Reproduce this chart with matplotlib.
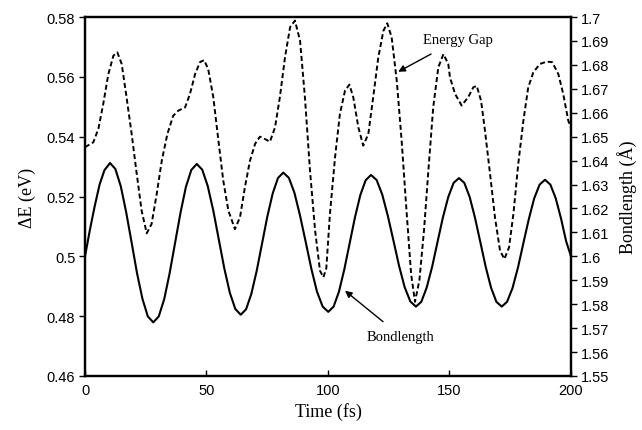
import matplotlib.pyplot as plt

# Energy gap (left axis, dashed)
gap_t = [0, 3.4, 5.5, 7.5, 9.6, 11.7, 13.3, 15.1, 17.1, 19.2, 21.3, 23.3, 25.4, 27.4,
         29.5, 31.6, 33.9, 36.3, 38.4, 41.2, 43.2, 45.3, 47.3, 49.0, 50.7, 52.8, 54.9,
         56.9, 59.0, 61.7, 63.8, 65.8, 67.9, 70.0, 72.0, 74.1, 76.1, 78.2, 80.2, 82.3,
         84.4, 86.4, 88.5, 90.5, 92.6, 94.7, 96.7, 98.1, 99.3, 100.8, 102.9, 104.9, 107.0,
         108.8, 110.4, 112.5, 114.5, 116.6, 118.6, 120.7, 122.8, 124.4, 126.2, 128.3,
         130.3, 132.4, 134.2, 135.8, 137.6, 139.5, 141.3, 143.3, 145.4, 147.5, 149.5,
         150.2, 152.3, 155.0, 157.7, 159.8, 161.2, 163.0, 164.6, 166.7, 168.7, 170.8,
         172.6, 174.5, 176.3, 178.3, 180.4, 182.4, 184.5, 187.2, 190.0, 192.3, 194.8,
         196.8, 198.9, 200]
gap_e = [0.5365, 0.5381, 0.5426, 0.5509, 0.5609, 0.5671, 0.5682, 0.5643, 0.5532, 0.5409,
         0.5275, 0.5153, 0.5077, 0.5108, 0.5208, 0.5320, 0.5409, 0.5470, 0.5487, 0.5498,
         0.5543, 0.5609, 0.5649, 0.5656, 0.5626, 0.5532, 0.5387, 0.5253, 0.5153, 0.5091,
         0.5131, 0.5231, 0.5320, 0.5376, 0.5400, 0.5392, 0.5383, 0.5431, 0.5532, 0.5665,
         0.5766, 0.5788, 0.5721, 0.5532, 0.5286, 0.5086, 0.4952, 0.4930, 0.4960, 0.5142,
         0.5331, 0.5476, 0.5554, 0.5574, 0.5532, 0.5431, 0.5370, 0.5409, 0.5532, 0.5665,
         0.5754, 0.5779, 0.5732, 0.5587, 0.5387, 0.5142, 0.4941, 0.4848, 0.4919, 0.5086,
         0.5286, 0.5498, 0.5632, 0.5676, 0.5643, 0.5598, 0.5543, 0.5504, 0.5532, 0.5565,
         0.5570, 0.5520, 0.5420, 0.5275, 0.5131, 0.5019, 0.4991, 0.5030, 0.5142, 0.5309,
         0.5453, 0.5565, 0.5615, 0.5643, 0.5651, 0.5649, 0.5609, 0.5543, 0.5453, 0.5430]

# Bondlength (right axis, solid)
bond_t = [0, 2, 4, 6, 8, 10.3, 12.5, 14.75, 16.95, 19.2, 21.4, 23.65, 25.85, 28.1,
          30.35, 32.6, 34.8, 37.05, 39.3, 41.5, 43.75, 46, 48.25, 50.5, 52.8, 55.05,
          57.3, 59.6, 61.85, 64.1, 66.3, 68.45, 70.65, 72.85, 75.05, 77.25, 79.4, 81.6,
          83.9, 86.2, 88.5, 90.85, 93.15, 95.45, 97.8, 100.1, 102.3, 104.5, 106.7, 108.9,
          111.1, 113.3, 115.5, 117.7, 120, 122.3, 124.6, 126.95, 129.25, 131.55, 133.9,
          136.2, 138.4, 140.6, 142.85, 145.05, 147.25, 149.5, 151.7, 153.9, 156.1, 158.3,
          160.5, 162.7, 164.9, 167.1, 169.3, 171.5, 173.7, 175.95, 178.2, 180.4, 182.65,
          184.85, 187.1, 189.3, 191.5, 193.7, 195.9, 198, 200]
bond_l = [1.600, 1.611, 1.621, 1.630, 1.636, 1.639, 1.6365, 1.6292, 1.6184, 1.6057, 1.5930,
          1.5822, 1.5749, 1.5724, 1.5749, 1.5821, 1.5928, 1.6055, 1.6182, 1.6289, 1.6361,
          1.6386, 1.6362, 1.6294, 1.6191, 1.6071, 1.5951, 1.5848, 1.5780, 1.5756, 1.5779,
          1.5843, 1.5939, 1.6053, 1.6167, 1.6263, 1.6327, 1.6350, 1.6328, 1.6265, 1.6170,
          1.6059, 1.5948, 1.5853, 1.5790, 1.5768, 1.5790, 1.5852, 1.5945, 1.6054, 1.6163,
          1.6256, 1.6318, 1.6340, 1.6319, 1.6259, 1.6170, 1.6065, 1.5960, 1.5871, 1.5811,
          1.5790, 1.5810, 1.5869, 1.5956, 1.6059, 1.6161, 1.6248, 1.6307, 1.6327, 1.6307,
          1.6248, 1.6161, 1.6059, 1.5956, 1.5869, 1.5810, 1.5790, 1.5810, 1.5868, 1.5954,
          1.6055, 1.6156, 1.6242, 1.6300, 1.6320, 1.6300, 1.6243, 1.6158, 1.6063, 1.600]

x_ticks = [0, 50, 100, 150, 200]
left_ticks = [0.46, 0.48, 0.5, 0.52, 0.54, 0.56, 0.58]
right_ticks = [1.55, 1.56, 1.57, 1.58, 1.59, 1.6, 1.61, 1.62, 1.63, 1.64, 1.65, 1.66,
               1.67, 1.68, 1.69, 1.7]

fig = plt.figure(figsize=(6.42, 4.31), dpi=100)
ax = fig.add_axes([0.1324, 0.1253, 0.757, 0.8329])
ax2 = ax.twinx()

ax.plot(gap_t, gap_e, color='black', lw=1.4, ls=(0, (2.6, 1.5)))
ax2.plot(bond_t, bond_l, color='black', lw=1.5)

ax.set_xlim(0, 200)
ax.set_ylim(0.46, 0.58)
ax2.set_ylim(1.55, 1.7)

ax.set_xticks(x_ticks)
ax.set_xticklabels(['%g' % v for v in x_ticks])
ax.set_yticks(left_ticks)
ax.set_yticklabels(['%g' % v for v in left_ticks])
ax2.set_yticks(right_ticks)
ax2.set_yticklabels(['%g' % v for v in right_ticks])

tickfont = 'Liberation Sans'
for a in (ax, ax2):
    for lab in a.get_xticklabels() + a.get_yticklabels():
        lab.set_fontfamily(tickfont)
        lab.set_fontsize(10.5)
    for s in a.spines.values():
        s.set_linewidth(1.6)
ax.tick_params(axis='x', direction='in', length=4, width=1, pad=5)
ax.tick_params(axis='y', direction='out', length=4, width=1, pad=3)
ax2.tick_params(axis='y', direction='out', length=4, width=1, pad=3)

serif = 'Liberation Serif'
ax.set_xlabel('Time (fs)', fontfamily=serif, fontsize=13, labelpad=4)
ax.set_ylabel('\u0394E (eV)', fontfamily=serif, fontsize=13, labelpad=8)
ax2.set_ylabel('Bondlength (\u00c5)', fontfamily=serif, fontsize=13, labelpad=6)

ax.annotate('Energy Gap', xy=(128.9, 0.5617), xytext=(153.5, 0.5725),
            ha='center', va='center', fontfamily=serif, fontsize=10.5,
            arrowprops=dict(arrowstyle='-|>', color='black', lw=1,
                            mutation_scale=10, shrinkA=8, shrinkB=0))
ax.annotate('Bondlength', xy=(107, 0.4885), xytext=(130, 0.4733),
            ha='center', va='center', fontfamily=serif, fontsize=10.5,
            arrowprops=dict(arrowstyle='-|>', color='black', lw=1,
                            mutation_scale=10, shrinkA=6, shrinkB=0))

plt.savefig('out.png', dpi=100)
